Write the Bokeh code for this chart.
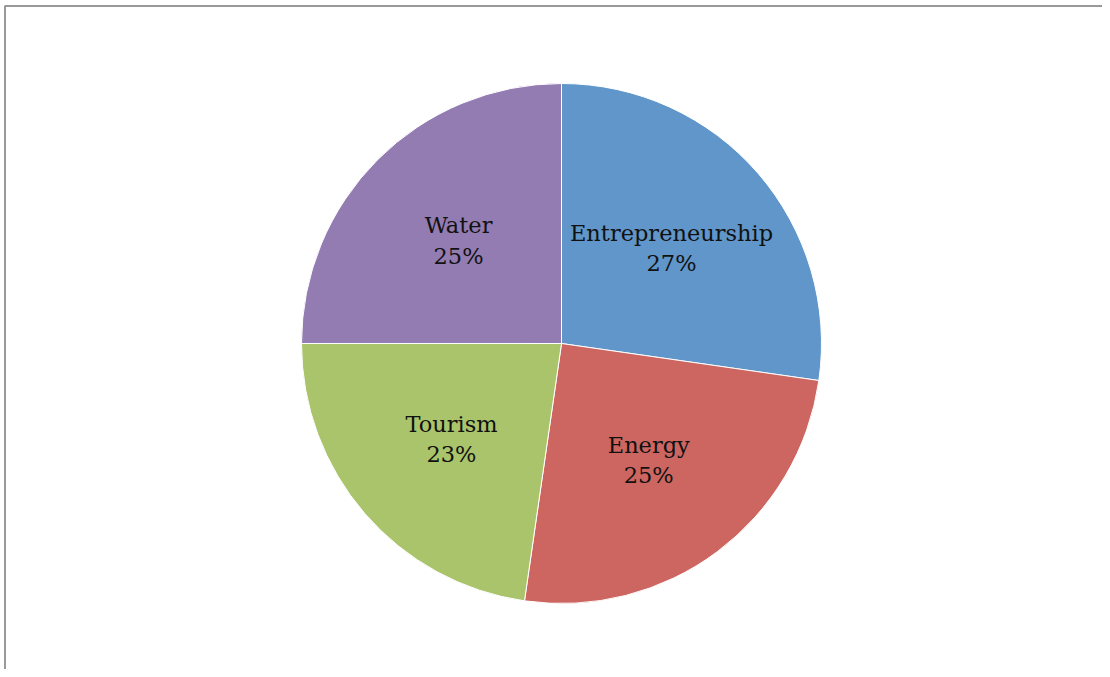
import math
from bokeh.plotting import figure
from bokeh.models import Range1d, ColumnDataSource
from bokeh.core.properties import value
from bokeh.embed import file_html
from bokeh.resources import INLINE

categories = ["Entrepreneurship", "Energy", "Tourism", "Water"]
counts = [12, 11, 10, 11]
colors = ["#6096C9", "#CD6660", "#AAC46B", "#937CB2"]

W, H = 1102, 669
cx, cy, R = 561, H - 343, 260
label_frac = 0.56

total = sum(counts)
starts, ends, lx, ly, labels = [], [], [], [], []
cum = 0.0
for c, n in zip(categories, counts):
    a0 = math.pi / 2 - 2 * math.pi * cum / total
    cum += n
    a1 = math.pi / 2 - 2 * math.pi * cum / total
    starts.append(a0)
    ends.append(a1)
    mid = (a0 + a1) / 2
    lx.append(cx + label_frac * R * math.cos(mid))
    ly.append(cy + label_frac * R * math.sin(mid))
    labels.append(f"{c}\n{round(100 * n / total)}%")

src = ColumnDataSource(dict(start=starts, end=ends, color=colors,
                            lx=lx, ly=ly, label=labels))

p = figure(width=W, height=H, output_backend="svg", toolbar_location=None,
           x_range=Range1d(0, W), y_range=Range1d(0, H), min_border=0)
p.axis.visible = False
p.grid.visible = False
p.outline_line_color = None
p.background_fill_color = "white"

p.wedge(x=cx, y=cy, radius=R, start_angle="start", end_angle="end",
        direction="clock", fill_color="color", line_color="white",
        line_width=1, source=src)

p.text(x="lx", y="ly", text="label", source=src, text_align="center",
       text_baseline="middle", text_font=value("DejaVu Serif"),
       text_font_size="22.5px", text_color="#111111", text_line_height=1.18)

# frame lines (top and left)
p.segment(x0=[4, 4.5], y0=[H - 5.5, 0], x1=[W, 4.5], y1=[H - 5.5, H - 5.5],
          line_color="#999999", line_width=2)

open("out.html", "w").write(file_html(p, INLINE))
